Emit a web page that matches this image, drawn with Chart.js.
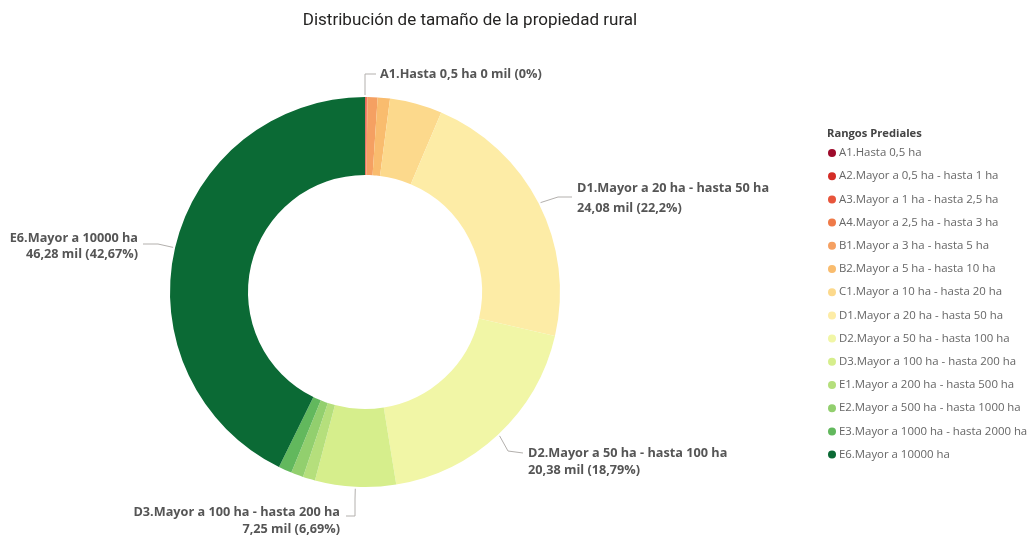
<!DOCTYPE html>
<html>
<head>
<meta charset="utf-8">
<script src="https://cdn.jsdelivr.net/npm/chart.js@4/dist/chart.umd.min.js"></script>
<style>
  html, body { margin: 0; padding: 0; background: #fff; }
  canvas { display: block; }
</style>
</head>
<body>
<canvas id="graficoRangos" width="1029" height="535"></canvas>
<script>
// Rangos prediales y superficie (miles) por rango
const rangos = [
  'A1.Hasta 0,5 ha',
  'A2.Mayor a 0,5 ha - hasta 1 ha',
  'A3.Mayor a 1 ha - hasta 2,5 ha',
  'A4.Mayor a 2,5 ha - hasta 3 ha',
  'B1.Mayor a 3 ha - hasta 5 ha',
  'B2.Mayor a 5 ha - hasta 10 ha',
  'C1.Mayor a 10 ha - hasta 20 ha',
  'D1.Mayor a 20 ha - hasta 50 ha',
  'D2.Mayor a 50 ha - hasta 100 ha',
  'D3.Mayor a 100 ha - hasta 200 ha',
  'E1.Mayor a 200 ha - hasta 500 ha',
  'E2.Mayor a 500 ha - hasta 1000 ha',
  'E3.Mayor a 1000 ha - hasta 2000 ha',
  'E6.Mayor a 10000 ha'
];
const miles = [0, 0.06, 0.1, 0.06, 0.9, 1.1, 4.7, 24.08, 20.38, 7.25, 1.1, 1.1, 1.2, 46.28];
const porcentajes = [0, 0.06, 0.09, 0.06, 0.83, 1.01, 4.33, 22.2, 18.79, 6.69, 1.01, 1.01, 1.11, 42.67];
const colores = [
  '#9e0b2b', '#d42d27', '#e8553b', '#ef7a48', '#f5a062', '#f9bc6e', '#fcd98c',
  '#fdeca6', '#f1f6a6', '#d6ee8c', '#b5df7c', '#92cf6e', '#62b85d', '#0b6a35'
];

// solo estos rangos llevan etiqueta de datos
const conEtiqueta = [0, 7, 8, 9, 13];

function fmt(n) {
  return n.toLocaleString('es-CO', { maximumFractionDigits: 2 });
}

// disposición de cada etiqueta: codo de la guía, punto final y texto
const disposicion = {
  0:  { codo: [365, 74], fin: [376, 74], x: 380, y: [74], align: 'left', unaLinea: true },
  7:  { codo: [558, 197], fin: [572, 197], x: 577, y: [188, 208], align: 'left' },
  8:  { codo: [508, 451], fin: [523, 453], x: 528, y: [453, 470], align: 'left' },
  9:  { codo: [355, 499], fin: [355, 516], fin2: [346, 516], x: 340, y: [512, 529], align: 'right' },
  13: { codo: [158, 244], fin: [143, 244], x: 138, y: [238, 254], align: 'right' }
};

const dibujoExtra = {
  id: 'dibujoExtra',
  beforeDraw(chart) {
    const ctx = chart.ctx;
    ctx.save();
    ctx.fillStyle = '#ffffff';
    ctx.fillRect(0, 0, chart.width, chart.height);
    ctx.restore();
  },
  afterDraw(chart) {
    const ctx = chart.ctx;
    ctx.save();

    // título
    ctx.fillStyle = '#252423';
    ctx.font = '17px Roboto';
    ctx.textAlign = 'center';
    ctx.textBaseline = 'middle';
    ctx.fillText('Distribución de tamaño de la propiedad rural', 470, 21);

    // etiquetas con guías
    const arcos = chart.getDatasetMeta(0).data;
    conEtiqueta.forEach(i => {
      const a = arcos[i];
      const d = disposicion[i];
      const ang = miles[i] === 0 ? a.startAngle : (a.startAngle + a.endAngle) / 2;
      const r = a.outerRadius + 2;
      const x0 = a.x + Math.cos(ang) * r;
      const y0 = a.y + Math.sin(ang) * r;
      ctx.strokeStyle = '#b3b0ad';
      ctx.lineWidth = 1;
      ctx.beginPath();
      ctx.moveTo(x0, y0);
      ctx.lineTo(d.codo[0], d.codo[1]);
      ctx.lineTo(d.fin[0], d.fin[1]);
      if (d.fin2) ctx.lineTo(d.fin2[0], d.fin2[1]);
      ctx.stroke();

      ctx.fillStyle = '#555555';
      ctx.font = 'bold 12.7px "Open Sans"';
      ctx.textAlign = d.align;
      ctx.textBaseline = 'middle';
      const valor = fmt(miles[i]) + ' mil (' + fmt(porcentajes[i]) + '%)';
      if (d.unaLinea) {
        ctx.fillText(rangos[i] + ' ' + valor, d.x, d.y[0]);
      } else {
        ctx.fillText(rangos[i], d.x, d.y[0]);
        ctx.fillText(valor, d.x, d.y[1]);
      }
    });

    // leyenda
    ctx.textAlign = 'left';
    ctx.textBaseline = 'middle';
    ctx.fillStyle = '#444444';
    ctx.font = 'bold 11.2px "Open Sans"';
    ctx.fillText('Rangos Prediales', 827, 134);
    ctx.font = '11.4px "Open Sans"';
    rangos.forEach((txt, i) => {
      const y = 153 + i * 23.2;
      ctx.fillStyle = colores[i];
      ctx.beginPath();
      ctx.arc(832, y, 4, 0, Math.PI * 2);
      ctx.fill();
      ctx.fillStyle = '#666666';
      ctx.fillText(txt, 839, y);
    });

    ctx.restore();
  }
};

new Chart(document.getElementById('graficoRangos'), {
  type: 'doughnut',
  data: {
    labels: rangos,
    datasets: [{
      data: miles,
      backgroundColor: colores,
      borderWidth: 0
    }]
  },
  options: {
    responsive: false,
    animation: false,
    cutout: '60%',
    layout: { padding: { top: 97, bottom: 48, left: 170, right: 469 } },
    plugins: {
      legend: { display: false },
      tooltip: { enabled: false }
    }
  },
  plugins: [dibujoExtra]
});
</script>
</body>
</html>
